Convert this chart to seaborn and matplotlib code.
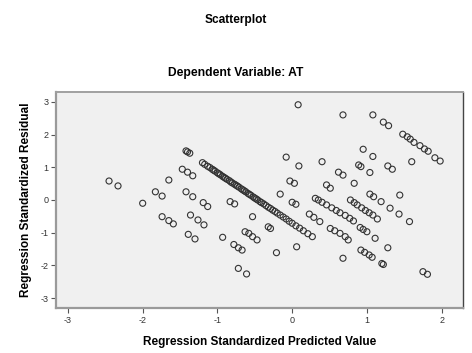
import matplotlib
matplotlib.use("Agg")
import matplotlib.pyplot as plt
import seaborn as sns
import pandas as pd

# Values (standardized predicted value, standardized residual)
pred_left = [-2.45, -2.33, -2.00, -1.65, -1.83, -1.74, -1.74, -1.65, -1.59,
             -1.42, -1.40, -1.37, -1.47, -1.40, -1.33, -1.42, -1.33, -1.19, -1.13,
             -1.36, -1.26, -1.18, -1.39, -1.30]
resid_left = [0.58, 0.43, -0.10, 0.61, 0.25, 0.12, -0.51, -0.63, -0.73,
              1.50, 1.47, 1.43, 0.94, 0.85, 0.74, 0.25, 0.10, -0.08, -0.20,
              -0.46, -0.61, -0.76, -1.05, -1.19]

# the dense diagonal band
pred_band = [-1.20, -1.17, -1.13, -1.10, -1.07, -1.05, -1.03, -1.00, -0.98, -0.96,
             -0.93, -0.91, -0.89, -0.87, -0.84, -0.82, -0.80, -0.77, -0.75, -0.73,
             -0.71, -0.68, -0.66, -0.64, -0.62, -0.59, -0.57, -0.55, -0.52, -0.50,
             -0.48, -0.46, -0.43, -0.41, -0.38, -0.35, -0.32, -0.29, -0.26, -0.23,
             -0.20, -0.16, -0.12, -0.08, -0.04, 0.00, 0.05, 0.10, 0.15, 0.21, 0.27]
resid_band = [1.14, 1.09, 1.03, 0.99, 0.94, 0.91, 0.88, 0.83, 0.80, 0.77,
              0.72, 0.69, 0.66, 0.63, 0.59, 0.55, 0.52, 0.48, 0.45, 0.42,
              0.39, 0.34, 0.31, 0.28, 0.25, 0.20, 0.17, 0.14, 0.09, 0.06,
              0.03, 0.00, -0.05, -0.08, -0.12, -0.17, -0.22, -0.26, -0.31, -0.35,
              -0.40, -0.46, -0.52, -0.58, -0.65, -0.71, -0.79, -0.86, -0.94, -1.03, -1.12]

pred_mid = [-0.93, -0.83, -0.77, -0.78, -0.72, -0.67, -0.72, -0.61, -0.63, -0.58,
            -0.53, -0.47, -0.53, -0.32, -0.29, -0.21, -0.16, -0.08, 0.08, 0.09,
            -0.03, 0.03, 0.00, 0.05, 0.06, 0.40, 0.46, 0.51, 0.31, 0.35,
            0.23, 0.29, 0.37]
resid_mid = [-1.14, -0.05, -0.12, -1.36, -1.46, -1.53, -2.09, -2.26, -0.97, -1.02,
             -1.12, -1.22, -0.51, -0.82, -0.87, -1.61, 0.18, 1.31, 2.91, 1.04,
             0.58, 0.51, -0.07, -0.13, -1.43, 1.17, 0.46, 0.36, 0.05, 0.00,
             -0.43, -0.53, -0.66]

pred_right = [0.40, 0.46, 0.53, 0.59, 0.64, 0.71, 0.77, 0.82,
              0.78, 0.83, 0.87, 0.93, 0.98, 1.03, 1.08, 1.14,
              0.62, 0.68, 0.83, 0.89, 0.92, 0.95, 1.04, 1.08, 1.04, 1.09,
              1.19, 1.44, 1.31, 1.43, 1.57, 1.60, 1.28, 1.34,
              0.68, 1.08, 1.22, 1.29,
              1.48, 1.54, 1.58, 1.63, 1.71, 1.77, 1.82, 1.91, 1.98,
              0.51, 0.57, 0.64, 0.71, 0.75, 0.91, 0.95, 1.00, 1.11, 1.28,
              0.68, 0.92, 0.97, 1.03, 1.07, 1.20, 1.22, 1.75, 1.81]
resid_right = [-0.07, -0.15, -0.24, -0.32, -0.39, -0.47, -0.56, -0.64,
               0.00, -0.08, -0.15, -0.24, -0.32, -0.39, -0.46, -0.58,
               0.85, 0.76, 0.51, 1.07, 1.02, 1.55, 0.84, 1.33, 0.18, 0.10,
               -0.05, 0.15, -0.25, -0.43, -0.66, 1.17, 1.04, 0.94,
               2.60, 2.60, 2.38, 2.27,
               2.01, 1.93, 1.86, 1.76, 1.66, 1.56, 1.49, 1.29, 1.19,
               -0.87, -0.94, -1.02, -1.12, -1.22, -0.84, -0.90, -0.97, -1.17, -1.46,
               -1.78, -1.53, -1.60, -1.68, -1.75, -1.94, -1.97, -2.19, -2.27]

df = pd.DataFrame({
    'pred': pred_left + pred_band + pred_mid + pred_right,
    'resid': resid_left + resid_band + resid_mid + resid_right,
})

plt.rcParams['font.family'] = ['Liberation Sans', 'DejaVu Sans']
plt.rcParams['axes.unicode_minus'] = False

fig = plt.figure(figsize=(4.72, 3.53), dpi=100)
ax = fig.add_axes([0.1186, 0.1275, 0.8614, 0.6119])
ax.set_facecolor('#f0f0f0')

sns.scatterplot(data=df, x='pred', y='resid', ax=ax, marker='o', s=19,
                facecolors='none', edgecolor='#333333', linewidth=0.8, legend=False)

ax.set_xlim(-3.16, 2.28)
ax.set_ylim(-3.30, 3.30)
ax.set_xticks([-3, -2, -1, 0, 1, 2])
ax.set_yticks([-3, -2, -1, 0, 1, 2, 3])
ax.tick_params(labelsize=6.5, labelcolor='#333333', color='#555555',
               length=3.5, width=0.8, direction='out', pad=2)

ax.set_xlabel('Regression Standardized Predicted Value', fontsize=8.5,
              fontweight='bold', labelpad=8)
ax.set_ylabel('Regression Standardized Residual', fontsize=8.5,
              fontweight='bold', labelpad=6)

for side in ['left', 'bottom']:
    ax.spines[side].set_color('#9a9a9a')
    ax.spines[side].set_linewidth(1.6)
ax.spines['top'].set_color('#a0a0a0')
ax.spines['top'].set_linewidth(1.4)
ax.spines['right'].set_color('#444444')
ax.spines['right'].set_linewidth(1.0)

fig.text(0.5, 1 - 20 / 353, 'Scatterplot', ha='center', va='center',
         fontsize=8.6, fontweight='bold')
fig.text(0.5, 1 - 73 / 353, 'Dependent Variable: AT', ha='center', va='center',
         fontsize=8.7, fontweight='bold')

fig.savefig('out.png', dpi=100)
